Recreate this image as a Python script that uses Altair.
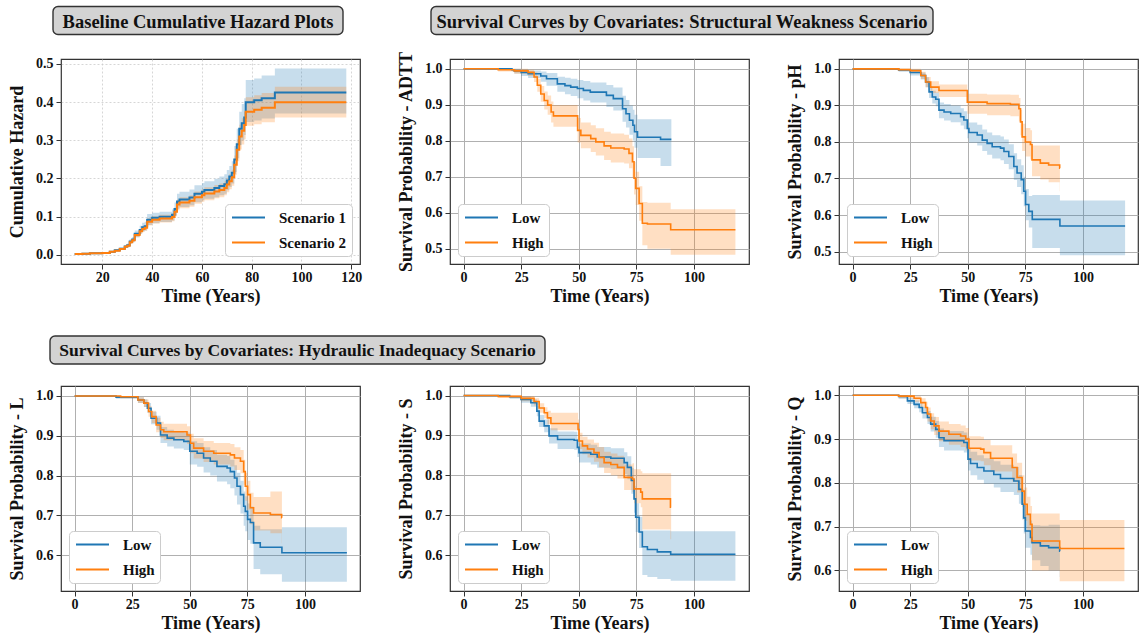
import altair as alt
import pandas as pd

BLUE = "#1f77b4"
ORANGE = "#ff7f0e"
FONT = "Liberation Serif"

# ---------------- Panel 1: baseline cumulative hazard ----------------
haz_t = [8.9, 12, 15, 20, 23, 25, 27, 29, 30, 31, 32, 33, 35, 36, 37, 38, 40, 43, 48, 49,
         50, 51, 55, 57, 60, 61, 65, 67, 69, 70, 71, 72, 73, 74, 75, 76, 77, 77.6, 81, 84,
         89.3, 118]
haz1 = [0.002, 0.003, 0.004, 0.005, 0.008, 0.012, 0.016, 0.022, 0.025, 0.035,
        0.04, 0.055, 0.065, 0.072, 0.075, 0.092, 0.097, 0.10, 0.105, 0.12,
        0.14, 0.145, 0.15, 0.16, 0.165, 0.17, 0.175, 0.18, 0.185, 0.195,
        0.205, 0.215, 0.25, 0.29, 0.33, 0.345, 0.36, 0.40, 0.405, 0.41,
        0.425, 0.425]
haz1_hi = [0.003, 0.004, 0.005, 0.007, 0.010, 0.015, 0.019, 0.026, 0.030, 0.041,
           0.047, 0.064, 0.076, 0.084, 0.087, 0.107, 0.110, 0.113, 0.119, 0.137,
           0.160, 0.165, 0.171, 0.182, 0.188, 0.193, 0.199, 0.205, 0.211, 0.222,
           0.233, 0.245, 0.285, 0.33, 0.375, 0.395, 0.41, 0.458, 0.462, 0.47,
           0.488, 0.488]
haz1_lo = [0.001, 0.002, 0.003, 0.004, 0.006, 0.009, 0.013, 0.018, 0.020, 0.029,
           0.033, 0.046, 0.055, 0.061, 0.064, 0.078, 0.083, 0.086, 0.090, 0.103,
           0.121, 0.125, 0.130, 0.138, 0.143, 0.147, 0.151, 0.156, 0.160, 0.169,
           0.178, 0.187, 0.217, 0.253, 0.288, 0.30, 0.314, 0.348, 0.352, 0.357,
           0.37, 0.37]
haz2 = [0.002, 0.003, 0.004, 0.005, 0.008, 0.011, 0.015, 0.021, 0.024, 0.033,
        0.038, 0.052, 0.062, 0.068, 0.071, 0.087, 0.092, 0.095, 0.099, 0.113,
        0.132, 0.137, 0.142, 0.151, 0.156, 0.161, 0.166, 0.170, 0.175, 0.184,
        0.193, 0.203, 0.236, 0.275, 0.31, 0.325, 0.34, 0.375, 0.38, 0.385,
        0.40, 0.40]
haz2_hi = [0.003, 0.004, 0.005, 0.006, 0.009, 0.012, 0.017, 0.023, 0.026, 0.036,
           0.042, 0.057, 0.068, 0.075, 0.078, 0.096, 0.101, 0.105, 0.109, 0.124,
           0.145, 0.151, 0.156, 0.166, 0.172, 0.177, 0.183, 0.187, 0.193, 0.202,
           0.212, 0.223, 0.26, 0.303, 0.341, 0.358, 0.374, 0.413, 0.418, 0.424,
           0.44, 0.44]
haz2_lo = [0.001, 0.002, 0.003, 0.004, 0.007, 0.010, 0.013, 0.019, 0.021, 0.029,
           0.034, 0.046, 0.055, 0.061, 0.063, 0.077, 0.082, 0.085, 0.088, 0.101,
           0.117, 0.122, 0.126, 0.134, 0.139, 0.143, 0.148, 0.151, 0.156, 0.164,
           0.172, 0.181, 0.21, 0.245, 0.276, 0.289, 0.303, 0.338, 0.342, 0.347,
           0.36, 0.36]

# ---------------- Panel 2: ADTT ----------------
adtt_low_t = [0, 21, 22, 25, 28, 33.5, 36, 40.7, 44, 46.5, 49.4, 52, 55, 62, 65, 69, 70.5,
              72, 73.5, 74.2, 75.5, 85.5, 90.2]
adtt_low_s = [1.0, 0.997, 0.994, 0.99, 0.986, 0.98, 0.972, 0.958, 0.953, 0.949, 0.945, 0.94,
              0.935, 0.926, 0.917, 0.889, 0.875, 0.857, 0.843, 0.825, 0.81, 0.804, 0.804]
adtt_low_lo = [1.0, 0.993, 0.987, 0.98, 0.974, 0.964, 0.953, 0.936, 0.929, 0.924, 0.918, 0.912,
               0.906, 0.894, 0.884, 0.853, 0.837, 0.817, 0.801, 0.781, 0.752, 0.73, 0.73]
adtt_low_hi = [1.0, 1.0, 1.0, 0.997, 0.995, 0.992, 0.988, 0.978, 0.975, 0.972, 0.969, 0.966,
               0.962, 0.955, 0.948, 0.925, 0.913, 0.898, 0.886, 0.872, 0.86, 0.86, 0.86]
adtt_high_t = [0, 15, 22, 28, 30.6, 32, 33.5, 35, 36.5, 38, 39, 49.5, 50.9, 55.2, 57.4, 61,
               63.9, 69.7, 71.8, 73.3, 74, 74.7, 76.2, 77.6, 79.8, 89.9, 118]
adtt_high_s = [1.0, 0.997, 0.994, 0.99, 0.977, 0.954, 0.93, 0.912, 0.899, 0.88, 0.869, 0.829,
               0.815, 0.806, 0.797, 0.786, 0.78, 0.777, 0.765, 0.742, 0.696, 0.668, 0.626,
               0.571, 0.569, 0.553, 0.553]
adtt_high_lo = [1.0, 0.992, 0.986, 0.98, 0.963, 0.936, 0.908, 0.887, 0.872, 0.851, 0.839, 0.795,
                0.779, 0.769, 0.759, 0.747, 0.74, 0.737, 0.724, 0.699, 0.651, 0.622, 0.578,
                0.51, 0.5, 0.484, 0.484]
adtt_high_hi = [1.0, 1.0, 1.0, 0.997, 0.99, 0.972, 0.952, 0.937, 0.926, 0.909, 0.899, 0.863,
                0.851, 0.843, 0.835, 0.825, 0.82, 0.817, 0.806, 0.785, 0.741, 0.714, 0.674,
                0.63, 0.628, 0.61, 0.61]

# ---------------- Panel 3: pH ----------------
ph_low_t = [0, 20, 25, 29.6, 31.7, 33.2, 34.6, 36.1, 37.5, 39.7, 42.6, 46.9, 48.3, 49.8, 50.5,
            54.1, 56.3, 58.4, 60.6, 64.2, 65.7, 67.8, 70, 71.4, 73.2, 74.3, 75.1, 76.5, 78,
            90, 118.3]
ph_low_s = [1.0, 0.997, 0.99, 0.982, 0.964, 0.937, 0.923, 0.917, 0.887, 0.882, 0.878, 0.869,
            0.86, 0.837, 0.826, 0.819, 0.805, 0.796, 0.787, 0.783, 0.774, 0.76, 0.733, 0.715,
            0.697, 0.665, 0.629, 0.61, 0.588, 0.57, 0.57]
ph_low_lo = [1.0, 0.992, 0.982, 0.971, 0.95, 0.92, 0.905, 0.898, 0.865, 0.859, 0.854, 0.845,
             0.835, 0.81, 0.798, 0.79, 0.775, 0.765, 0.755, 0.75, 0.74, 0.725, 0.696, 0.677,
             0.657, 0.624, 0.586, 0.566, 0.51, 0.49, 0.49]
ph_low_hi = [1.0, 1.0, 0.996, 0.99, 0.977, 0.953, 0.94, 0.935, 0.908, 0.904, 0.9, 0.892, 0.884,
             0.863, 0.853, 0.847, 0.834, 0.826, 0.818, 0.815, 0.807, 0.794, 0.769, 0.753,
             0.736, 0.705, 0.671, 0.652, 0.655, 0.64, 0.64]
ph_high_t = [0, 20, 25, 29.6, 31.7, 33.9, 37.5, 49.8, 58.4, 68.5, 72.2, 72.9, 73.6, 75, 77.2,
             77.9, 81.5, 85.1, 89.9, 90]
ph_high_s = [1.0, 0.998, 0.995, 0.982, 0.964, 0.95, 0.941, 0.909, 0.905, 0.903, 0.891, 0.855,
             0.814, 0.8, 0.793, 0.751, 0.742, 0.737, 0.728, 0.728]
ph_high_lo = [1.0, 0.994, 0.988, 0.972, 0.95, 0.934, 0.923, 0.877, 0.873, 0.87, 0.856, 0.818,
              0.775, 0.76, 0.752, 0.706, 0.697, 0.69, 0.665, 0.665]
ph_high_hi = [1.0, 1.0, 1.0, 0.992, 0.978, 0.966, 0.957, 0.932, 0.93, 0.929, 0.92, 0.888,
              0.85, 0.838, 0.832, 0.79, 0.79, 0.79, 0.79, 0.79]

# ---------------- Panel 4: L ----------------
l_low_t = [0, 18, 27.5, 30.1, 31.6, 33.2, 35.6, 37.3, 40.2, 43.1, 47.4, 50, 53.2, 56, 58.9,
           61.8, 66.2, 67.6, 69.4, 70.5, 72, 73.4, 74.1, 75.1, 76.3, 77.7, 80.6, 90, 118.2]
l_low_s = [1.0, 0.997, 0.99, 0.982, 0.969, 0.944, 0.932, 0.902, 0.894, 0.89, 0.886, 0.861,
           0.856, 0.844, 0.836, 0.823, 0.819, 0.81, 0.794, 0.773, 0.752, 0.723, 0.71, 0.69,
           0.682, 0.631, 0.62, 0.606, 0.606]
l_low_lo = [1.0, 0.993, 0.982, 0.972, 0.957, 0.929, 0.915, 0.882, 0.873, 0.868, 0.864, 0.828,
            0.822, 0.808, 0.8, 0.785, 0.778, 0.768, 0.75, 0.727, 0.705, 0.674, 0.66, 0.638,
            0.629, 0.565, 0.552, 0.533, 0.533]
l_low_hi = [1.0, 1.0, 0.997, 0.992, 0.982, 0.96, 0.95, 0.922, 0.915, 0.911, 0.908, 0.886,
            0.882, 0.871, 0.864, 0.852, 0.849, 0.84, 0.826, 0.807, 0.787, 0.76, 0.748, 0.73,
            0.722, 0.674, 0.665, 0.67, 0.67]
l_high_t = [0, 20, 27.5, 30.1, 32.1, 33.5, 35.4, 37.3, 38.7, 48.8, 50.3, 51.7, 56, 60.4, 67.6,
            69.4, 72, 73.4, 74.1, 75.1, 76.3, 77.7, 85, 89.9, 90]
l_high_s = [1.0, 0.998, 0.99, 0.982, 0.961, 0.948, 0.927, 0.915, 0.91, 0.902, 0.881, 0.869,
            0.861, 0.856, 0.852, 0.844, 0.836, 0.81, 0.773, 0.752, 0.719, 0.706, 0.702, 0.694,
            0.694]
l_high_lo = [1.0, 0.994, 0.982, 0.972, 0.948, 0.932, 0.909, 0.895, 0.889, 0.879, 0.856, 0.843,
             0.834, 0.828, 0.823, 0.814, 0.806, 0.777, 0.737, 0.714, 0.678, 0.662, 0.655, 0.63,
             0.63]
l_high_hi = [1.0, 1.0, 0.997, 0.991, 0.974, 0.963, 0.945, 0.935, 0.93, 0.924, 0.905, 0.894,
             0.887, 0.882, 0.879, 0.871, 0.864, 0.84, 0.807, 0.787, 0.757, 0.746, 0.76, 0.76,
             0.76]

# ---------------- Panel 5: S ----------------
s_low_t = [0, 20, 24.9, 29.2, 31.8, 32.8, 35, 37.1, 40.8, 48, 49.4, 50.1, 55.2, 58, 63.9, 69.7,
           71.1, 72.8, 74, 74.7, 76.2, 77.6, 79.8, 84.1, 89.9, 118]
s_low_s = [1.0, 0.997, 0.99, 0.982, 0.961, 0.936, 0.924, 0.899, 0.89, 0.888, 0.87, 0.857,
           0.853, 0.846, 0.843, 0.832, 0.82, 0.787, 0.741, 0.695, 0.658, 0.621, 0.614, 0.608,
           0.602, 0.602]
s_low_lo = [1.0, 0.992, 0.982, 0.972, 0.948, 0.921, 0.908, 0.88, 0.866, 0.864, 0.846, 0.832,
            0.827, 0.819, 0.816, 0.803, 0.79, 0.754, 0.706, 0.658, 0.618, 0.55, 0.545, 0.54,
            0.536, 0.536]
s_low_hi = [1.0, 1.0, 0.997, 0.991, 0.974, 0.951, 0.94, 0.918, 0.91, 0.909, 0.892, 0.88, 0.877,
            0.871, 0.868, 0.858, 0.848, 0.818, 0.774, 0.73, 0.696, 0.662, 0.662, 0.662, 0.66,
            0.66]
s_high_t = [0, 15, 25, 30.6, 32.8, 35, 36.4, 37.9, 49.7, 50.1, 51.6, 53.8, 56.6, 58.8, 61, 63.9,
            66.8, 69.7, 73.3, 74, 76.9, 77.6, 89.8, 90.1]
s_high_s = [1.0, 0.998, 0.993, 0.985, 0.969, 0.957, 0.944, 0.93, 0.915, 0.886, 0.874, 0.866,
            0.857, 0.845, 0.832, 0.827, 0.82, 0.795, 0.791, 0.766, 0.758, 0.741, 0.72, 0.72]
s_high_lo = [1.0, 0.994, 0.986, 0.975, 0.957, 0.943, 0.928, 0.913, 0.9, 0.866, 0.853, 0.845,
             0.834, 0.82, 0.806, 0.8, 0.792, 0.763, 0.758, 0.73, 0.72, 0.664, 0.64, 0.64]
s_high_hi = [1.0, 1.0, 0.998, 0.993, 0.981, 0.971, 0.962, 0.957, 0.94, 0.907, 0.897, 0.89,
             0.882, 0.871, 0.859, 0.855, 0.849, 0.827, 0.83, 0.815, 0.81, 0.805, 0.805, 0.805]

# ---------------- Panel 6: Q ----------------
q_low_t = [0, 20, 23.8, 26.7, 28.9, 30.3, 32.5, 33.9, 36.1, 37.5, 39.7, 48.3, 49.8, 50.1, 51.2,
           54.1, 57, 61.3, 64.2, 70, 72.2, 73.6, 74.3, 75, 77.2, 77.9, 81.5, 85.1, 89.9, 90]
q_low_s = [1.0, 0.997, 0.987, 0.979, 0.972, 0.96, 0.949, 0.934, 0.922, 0.903, 0.896, 0.892,
           0.88, 0.854, 0.844, 0.835, 0.827, 0.819, 0.81, 0.804, 0.785, 0.751, 0.72, 0.69,
           0.675, 0.663, 0.656, 0.652, 0.644, 0.644]
q_low_lo = [1.0, 0.992, 0.98, 0.97, 0.961, 0.947, 0.934, 0.917, 0.903, 0.882, 0.874, 0.869,
            0.856, 0.828, 0.817, 0.807, 0.798, 0.789, 0.779, 0.772, 0.752, 0.716, 0.684, 0.652,
            0.636, 0.623, 0.61, 0.6, 0.585, 0.585]
q_low_hi = [1.0, 1.0, 0.994, 0.988, 0.983, 0.973, 0.964, 0.951, 0.941, 0.924, 0.918, 0.915,
            0.904, 0.88, 0.871, 0.863, 0.856, 0.849, 0.841, 0.836, 0.818, 0.786, 0.756, 0.728,
            0.714, 0.703, 0.702, 0.704, 0.703, 0.703]
q_high_t = [0, 20, 26.7, 29.6, 31.7, 32.5, 33.9, 35.4, 37.5, 41.8, 46.9, 49.1, 50.5, 55.6, 57,
            59.9, 69.3, 71.4, 73.6, 74.6, 75.8, 77.2, 77.9, 89.9, 118]
q_high_s = [1.0, 0.998, 0.993, 0.983, 0.972, 0.957, 0.941, 0.93, 0.918, 0.911, 0.907, 0.9,
            0.879, 0.877, 0.869, 0.856, 0.835, 0.812, 0.781, 0.751, 0.728, 0.705, 0.667, 0.65,
            0.65]
q_high_lo = [1.0, 0.993, 0.985, 0.972, 0.958, 0.94, 0.922, 0.909, 0.895, 0.887, 0.882, 0.874,
             0.851, 0.849, 0.84, 0.826, 0.803, 0.778, 0.745, 0.713, 0.688, 0.663, 0.6, 0.575,
             0.575]
q_high_hi = [1.0, 1.0, 0.999, 0.993, 0.985, 0.972, 0.959, 0.95, 0.94, 0.934, 0.931, 0.925,
             0.906, 0.905, 0.898, 0.886, 0.867, 0.846, 0.817, 0.789, 0.768, 0.747, 0.73, 0.715,
             0.715]


def make_df(groups):
    rows = []
    for name, (t, s, lo, hi) in groups:
        for a, b, c, d in zip(t, s, lo, hi):
            rows.append({"t": a, "s": b, "lo": c, "hi": d, "g": name})
    return pd.DataFrame(rows)


W, H = 299, 205


def title_layers(x1, x2, y1, y2, text, size=18.5):
    d = alt.Data(values=[{"k": 0}])
    box = alt.Chart(d).mark_rect(fill="#d3d3d3", stroke="#333333", strokeWidth=1.4,
                                 cornerRadius=5).encode(
        x=alt.value(x1), x2=alt.value(x2), y=alt.value(y1), y2=alt.value(y2))
    txt = alt.Chart(d).mark_text(font=FONT, fontWeight="bold", fontSize=size, align="center",
                                 baseline="middle", color="#111111").encode(
        x=alt.value((x1 + x2) / 2), y=alt.value((y1 + y2) / 2 + 1), text=alt.value(text))
    return [box, txt]


def panel(df, names, ytitle, xdom, ydom, xticks, yticks, dotted=False, lw=1.6,
          orient="bottom-left", extra=None):
    grid_kw = dict(gridColor="#cccccc", gridDash=[2, 2], gridWidth=0.8) if dotted else \
        dict(gridColor="#b0b0b0", gridWidth=1)
    xa = alt.Axis(values=xticks, title="Time (Years)", format="d", labelFlush=False,
                  labelOverlap=False, **grid_kw)
    ya = alt.Axis(values=yticks, title=ytitle, format=".1f", labelFlush=False,
                  labelOverlap=False, **grid_kw)
    xs = alt.Scale(domain=xdom, nice=False, zero=False)
    ys = alt.Scale(domain=ydom, nice=False, zero=False)
    cs = alt.Scale(domain=names, range=[BLUE, ORANGE])
    base = alt.Chart(df)
    bands = []
    for name, col in zip(names, [BLUE, ORANGE]):
        bands.append(base.transform_filter(alt.datum.g == name).mark_area(
            interpolate="step-after", opacity=0.25, color=col).encode(
            x=alt.X("t:Q", scale=xs, axis=xa),
            y=alt.Y("lo:Q", scale=ys, axis=ya),
            y2="hi:Q",
        ))
    line = base.mark_line(interpolate="step-after", strokeWidth=lw).encode(
        x=alt.X("t:Q", scale=xs, axis=xa),
        y=alt.Y("s:Q", scale=ys, axis=ya),
        stroke=alt.Stroke("g:N", scale=cs, legend=alt.Legend(
            title=None, orient=orient, offset=8, fillColor="white", strokeColor="#cccccc",
            padding=5, cornerRadius=4, symbolType="M-2.2,0H2.2", symbolSize=225,
            symbolOffset=10, symbolStrokeWidth=2, labelFont=FONT, labelFontWeight="bold",
            labelFontSize=15, labelColor="#111111", rowPadding=8, labelOffset=22)),
    )
    layers = bands + [line] + (extra or [])
    return alt.layer(*layers).properties(width=W, height=H)


yt_sw = [0.5, 0.6, 0.7, 0.8, 0.9, 1.0]
yt_hy = [0.6, 0.7, 0.8, 0.9, 1.0]
xt = [0, 25, 50, 75, 100]
xdom = [-5.9, 123.9]

p1 = panel(make_df([("Scenario 1", (haz_t, haz1, haz1_lo, haz1_hi)),
                    ("Scenario 2", (haz_t, haz2, haz2_lo, haz2_hi))]),
           ["Scenario 1", "Scenario 2"], "Cumulative Hazard", [3.4, 123.5], [-0.024, 0.513],
           [20, 40, 60, 80, 100, 120], [0.0, 0.1, 0.2, 0.3, 0.4, 0.5], dotted=True, lw=2,
           orient="bottom-right",
           extra=title_layers(-8, 282, -52.5, -24.5, "Baseline Cumulative Hazard Plots"))
p2 = panel(make_df([("Low", (adtt_low_t, adtt_low_s, adtt_low_lo, adtt_low_hi)),
                    ("High", (adtt_high_t, adtt_high_s, adtt_high_lo, adtt_high_hi))]),
           ["Low", "High"], "Survival Probability - ADTT", xdom, [0.458, 1.027], xt, yt_sw,
           extra=title_layers(-19, 483, -52.5, -24.5,
                              "Survival Curves by Covariates: Structural Weakness Scenario"))
p3 = panel(make_df([("Low", (ph_low_t, ph_low_s, ph_low_lo, ph_low_hi)),
                    ("High", (ph_high_t, ph_high_s, ph_high_lo, ph_high_hi))]),
           ["Low", "High"], "Survival Probability - pH", xdom, [0.466, 1.027], xt, yt_sw)
p4 = panel(make_df([("Low", (l_low_t, l_low_s, l_low_lo, l_low_hi)),
                    ("High", (l_high_t, l_high_s, l_high_lo, l_high_hi))]),
           ["Low", "High"], "Survival Probability - L", xdom, [0.51, 1.025], xt, yt_hy,
           extra=title_layers(-11, 484, -50, -22,
                              "Survival Curves by Covariates: Hydraulic Inadequacy Scenario",
                              size=17.5))
p5 = panel(make_df([("Low", (s_low_t, s_low_s, s_low_lo, s_low_hi)),
                    ("High", (s_high_t, s_high_s, s_high_lo, s_high_hi))]),
           ["Low", "High"], "Survival Probability - S", xdom, [0.51, 1.024], xt, yt_hy)
p6 = panel(make_df([("Low", (q_low_t, q_low_s, q_low_lo, q_low_hi)),
                    ("High", (q_high_t, q_high_s, q_high_lo, q_high_hi))]),
           ["Low", "High"], "Survival Probability - Q", xdom, [0.553, 1.021], xt, yt_hy)

row1 = alt.hconcat(p1, p2, p3, spacing=90, bounds="flush").resolve_scale(
    stroke="independent")
row2 = alt.hconcat(p4, p5, p6, spacing=90, bounds="flush").resolve_scale(
    stroke="independent")

chart = alt.vconcat(row1, row2, spacing=H + 122, bounds="flush").resolve_scale(
    stroke="independent").properties(
    padding={"left": 7, "top": 5, "right": 0, "bottom": 0}, background="white"
).configure_view(stroke="#333333", strokeWidth=1.2).configure_axis(
    labelFont=FONT, labelFontWeight="bold", labelFontSize=14, labelColor="#111111",
    titleFont=FONT, titleFontWeight="bold", titleFontSize=18, titleColor="#111111",
    tickColor="#333333", tickSize=5, domain=False, labelPadding=3, titlePadding=9,
).configure_axisX(labelPadding=1, titlePadding=3)

chart.save("out.html", embed_options={"renderer": "svg", "actions": False})
